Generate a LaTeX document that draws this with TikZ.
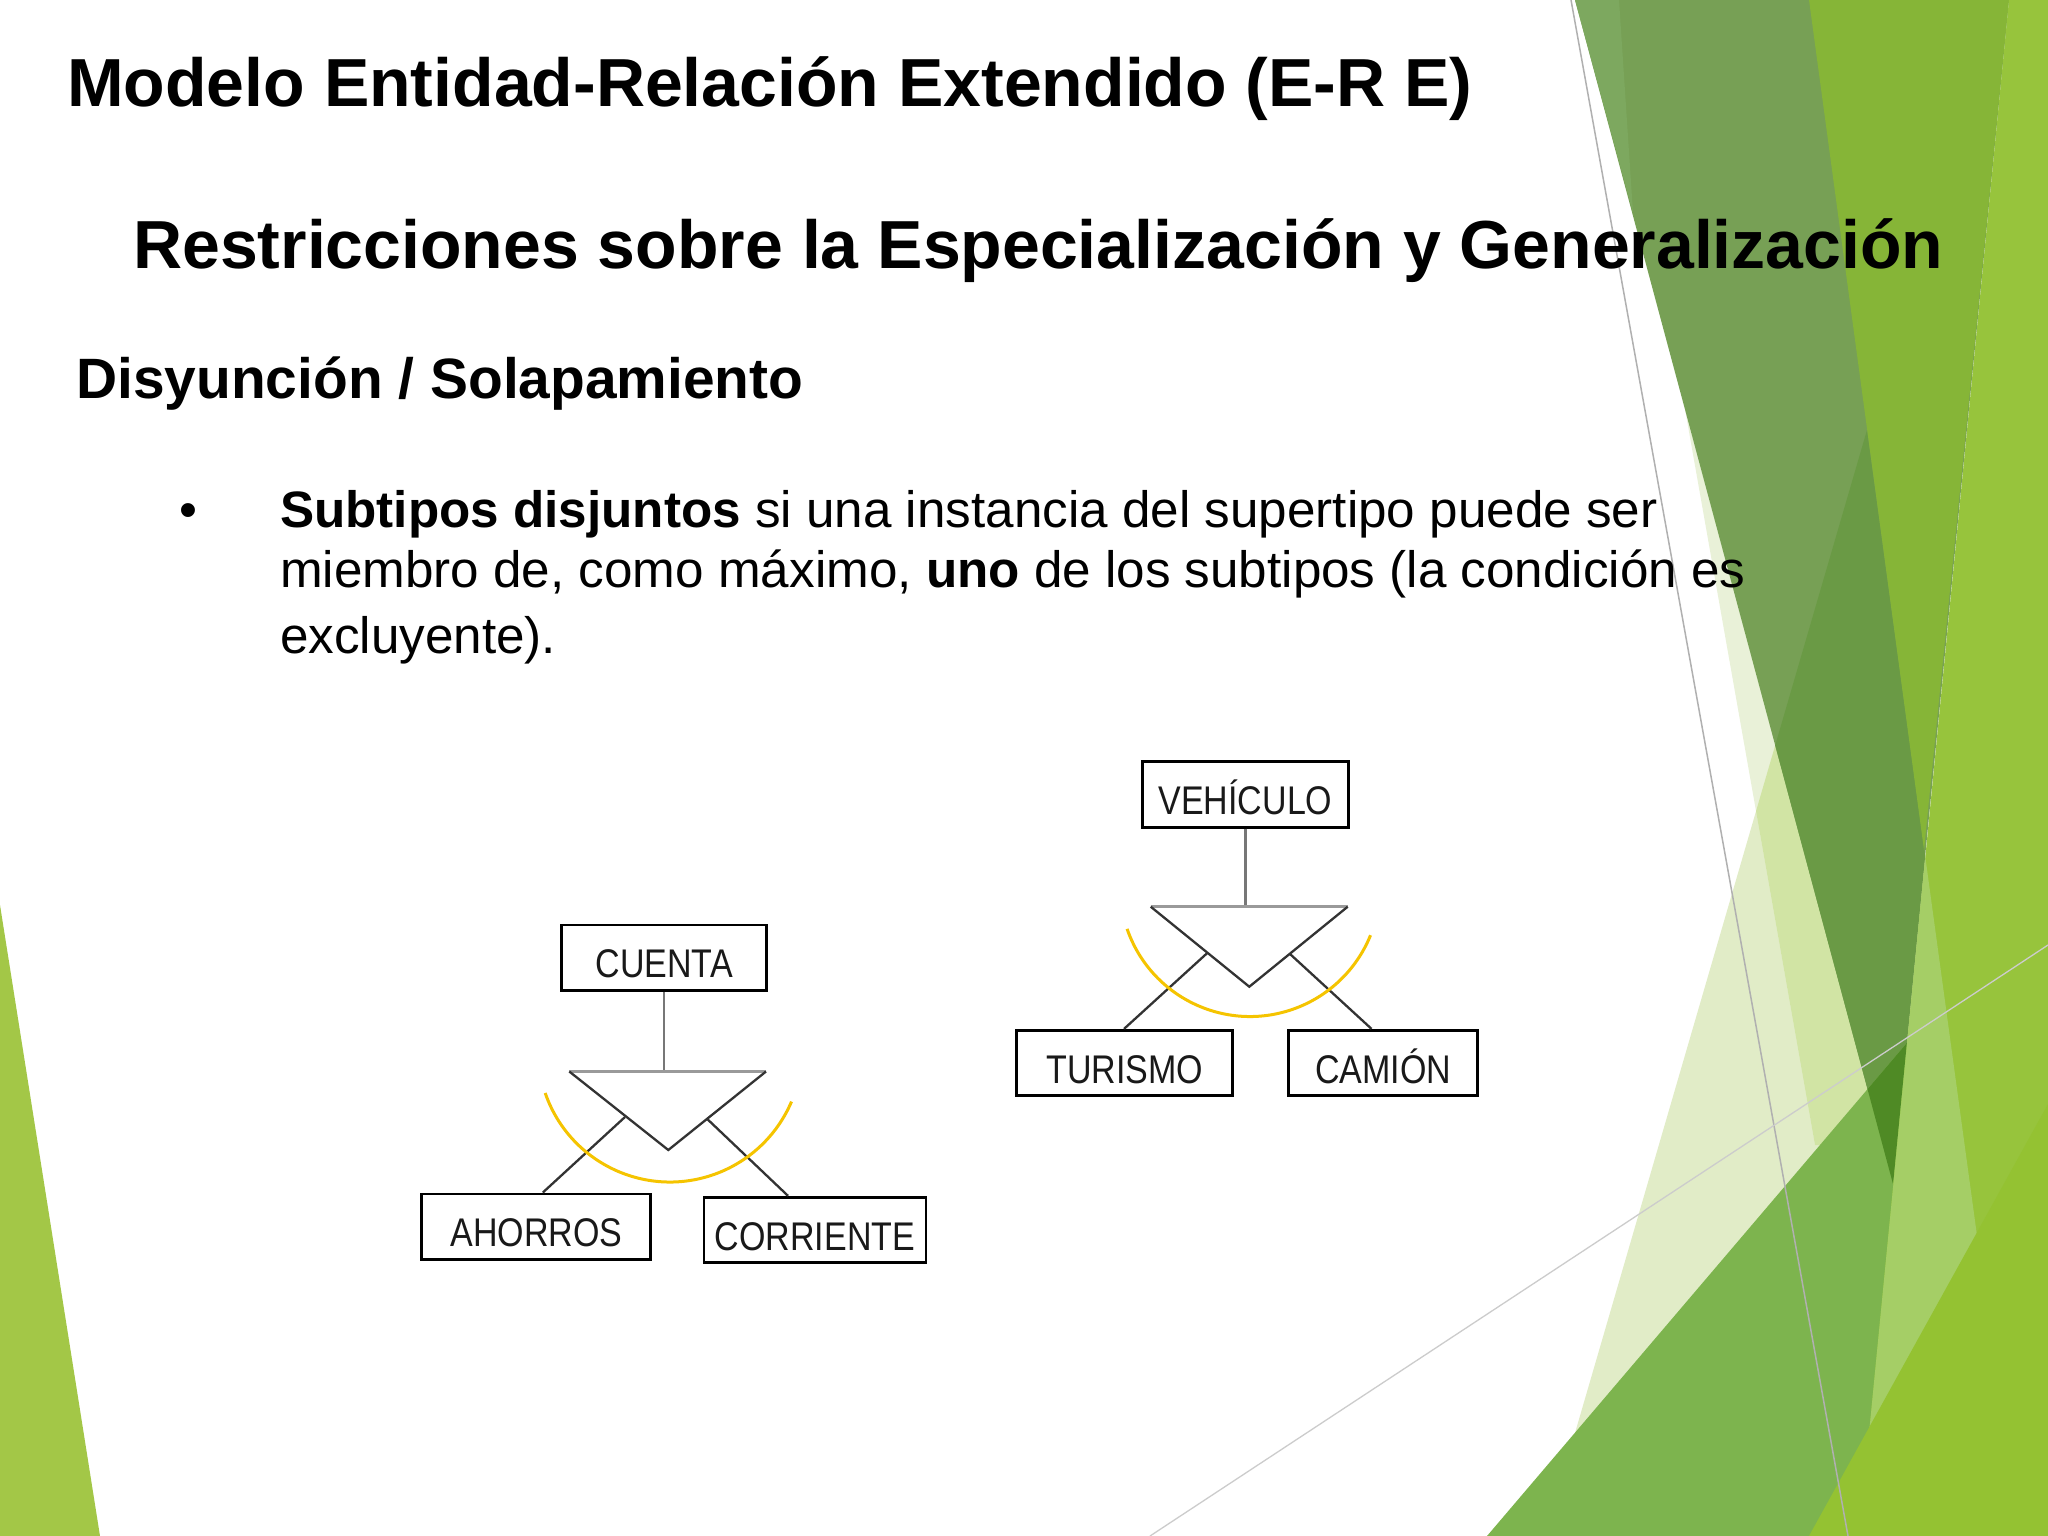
\documentclass[tikz,border=0pt]{standalone}
\usepackage{fontspec}
\setmainfont{Liberation Sans}
\usetikzlibrary{calc}
\definecolor{gLeft}{HTML}{A3C747}
\definecolor{cS}{HTML}{E1ECC7}
\definecolor{cSl}{HTML}{E9F1D8}
\definecolor{cSlS}{HTML}{D1E4A4}
\definecolor{cTone}{HTML}{77A055}
\definecolor{cToneS}{HTML}{6A9A45}
\definecolor{cTonew}{HTML}{7DA85F}
\definecolor{cTtwo}{HTML}{86B537}
\definecolor{cC}{HTML}{7DB44E}
\definecolor{cToneC}{HTML}{4F8A25}
\definecolor{cL}{HTML}{97C43C}
\definecolor{cLS}{HTML}{A5CE66}
\definecolor{cB}{HTML}{94C232}
\definecolor{lineA}{HTML}{B0B0B0}
\definecolor{lineB}{HTML}{CCCCCC}
\definecolor{arcY}{HTML}{F5C400}
\definecolor{stemG}{HTML}{777777}
\definecolor{barG}{HTML}{9A9A9A}
\definecolor{vG}{HTML}{333333}
\begin{document}
\begin{tikzpicture}[x=1pt,y=-1pt,
  ent/.style={draw=black, line width=2.8pt, inner sep=0pt, minimum height=65.5pt,
    text height=40pt, text depth=0pt, text=black!90,
    font=\fontsize{40}{40}\selectfont},
  stem/.style={draw=stemG, line width=2.4pt},
  bar/.style={draw=barG, line width=3pt},
  vl/.style={draw=vG, line width=2.3pt},
  arcst/.style={draw=arcY, line width=3pt},
  txt/.style={anchor=base west, inner sep=0pt}]
\useasboundingbox (0,0) rectangle (2048,1536);
\fill[white] (0,0) rectangle (2048,1536);

% decorations
\fill[gLeft] (0,905) -- (100,1536) -- (0,1536) -- cycle;
\fill[cS] (1867,430) -- (1545,1536) -- (2018,1536) -- cycle;
\fill[cSl] (1685,409) -- (1815,1145) -- (1883,1145) -- cycle;
\begin{scope}
\clip (1867,430) -- (1545,1536) -- (2018,1536) -- cycle;
\fill[cSlS] (1685,409) -- (1815,1145) -- (1883,1145) -- cycle;
\end{scope}
\fill[cTone] (1575,0) -- (2009,0) -- (1893,1184) -- cycle;
\begin{scope}
\clip (1867,430) -- (1545,1536) -- (2018,1536) -- cycle;
\fill[cToneS] (1575,0) -- (2009,0) -- (1893,1184) -- cycle;
\end{scope}
\fill[cTonew] (1575,0) -- (1619,0) -- (1633,213) -- cycle;
\fill[cTtwo] (1809,0) -- (2009,0) -- (1924,850) -- cycle;
\fill[cC] (1487,1536) -- (1906,1044) -- (2048,877) -- (2048,1536) -- cycle;
\begin{scope}
\clip (1487,1536) -- (1906,1044) -- (2048,877) -- (2048,1536) -- cycle;
\fill[cToneC] (1575,0) -- (2009,0) -- (1893,1184) -- cycle;
\end{scope}
\fill[cL] (2009,0) -- (2048,0) -- (2048,1536) -- (1859,1536) -- cycle;
\begin{scope}
\clip (1867,430) -- (1545,1536) -- (2018,1536) -- cycle;
\fill[cLS] (2009,0) -- (2048,0) -- (2048,1536) -- (1859,1536) -- cycle;
\end{scope}
\fill[cB] (1809,1536) -- (2048,1104) -- (2048,1536) -- cycle;
\draw[lineA, line width=1.5pt] (1571,0) -- (1848,1536);
\draw[lineB, line width=1.3pt] (1150,1536) -- (2048,945);

% texts
\node[txt, font=\bfseries\fontsize{68}{80}\selectfont] (title) at (67,107)
  {Modelo Entidad-Relación Extendido (E-R E)};
\node[txt, font=\bfseries\fontsize{68}{80}\selectfont] (subtitle) at (133,268)
  {Restricciones sobre la Especialización y Generalización};
\node[txt, font=\bfseries\fontsize{56.9}{66}\selectfont] (heading) at (76,398)
  {Disyunción / Solapamiento};
\node[anchor=base, inner sep=0pt, font=\fontsize{51.2}{60}\selectfont] (bullet) at (188,527) {•};
\node[txt, font=\fontsize{51.2}{60}\selectfont] (lineone) at (280,527)
  {\textbf{Subtipos disjuntos} si una instancia del supertipo puede ser};
\node[txt, font=\fontsize{51.2}{60}\selectfont] (linetwo) at (280,587)
  {miembro de, como máximo, \textbf{uno} de los subtipos (la condición es};
\node[txt, font=\fontsize{51.2}{60}\selectfont] (linethree) at (280,653)
  {excluyente).};

% diagram 1
\node[ent, minimum width=205pt] (cuenta) at (664.2,957.8) {\scalebox{0.85}[1]{CUENTA}};
\node[ent, minimum width=229pt] (ahorros) at (536.3,1226.7) {\scalebox{0.85}[1]{AHORROS}};
\node[ent, minimum width=222pt] (corriente) at (815,1230) {\scalebox{0.85}[1]{CORRIENTE}};
\coordinate (aL) at (569.3,1071.5);
\coordinate (aR) at (766,1071.5);
\coordinate (aM) at (664.2,1071.5);
\coordinate (aB) at (668.3,1150);
\coordinate (aBL) at (625,1117);
\coordinate (aBR) at (706.7,1118.5);
\draw[stem] (cuenta.south) -- (aM);
\draw[bar] (aL) -- (aR);
\draw[vl] (aL) -- (aB) -- (aR);
\draw[vl] (aBL) -- ($(ahorros.north west)!0.528!(ahorros.north east)$);
\draw[vl] (aBR) -- ($(corriente.north west)!0.380!(corriente.north east)$);
\draw[arcst] ([shift={(161:132)}]670,1050) arc[start angle=161,end angle=23,radius=132];

% diagram 2
\node[ent, minimum width=205.6pt] (vehiculo) at (1245.5,794.5) {\scalebox{0.85}[1]{VEHÍCULO}};
\node[ent, minimum width=216pt] (turismo) at (1124.7,1063) {\scalebox{0.85}[1]{TURISMO}};
\node[ent, minimum width=189pt] (camion) at (1383.2,1063) {\scalebox{0.85}[1]{CAMIÓN}};
\coordinate (bL) at (1150.7,906.7);
\coordinate (bR) at (1347.7,906.7);
\coordinate (bM) at (1245.5,906.7);
\coordinate (bB) at (1249.3,986.7);
\coordinate (bBL) at (1207.3,953);
\coordinate (bBR) at (1290,954);
\draw[stem] (vehiculo.south) -- (bM);
\draw[bar] (bL) -- (bR);
\draw[vl] (bL) -- (bB) -- (bR);
\draw[vl] (bBL) -- ($(turismo.north west)!0.497!(turismo.north east)$);
\draw[vl] (bBR) -- ($(camion.north west)!0.439!(camion.north east)$);
\draw[arcst] ([shift={(161:130)}]1250,886.5) arc[start angle=161,end angle=22,radius=130];
\end{tikzpicture}
\end{document}
